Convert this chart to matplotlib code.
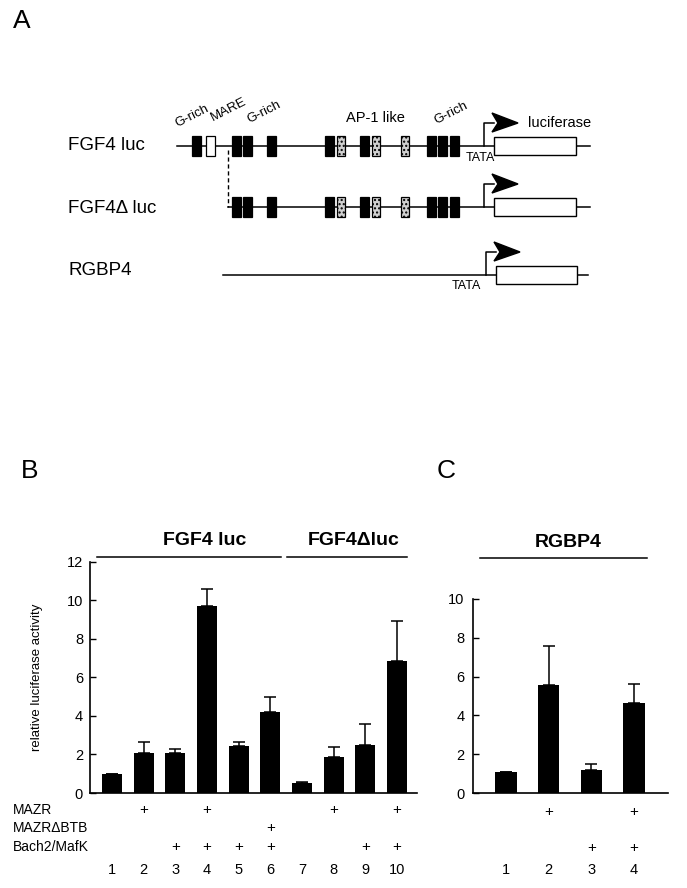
import matplotlib
matplotlib.use("Agg")
import matplotlib.pyplot as plt
from matplotlib import patches, transforms

plt.rcParams["font.family"] = ["Liberation Sans", "DejaVu Sans"]

W, H = 687, 888

# ---- panel A: promoter constructs (positions along the map, pixels) ----
constructs = ["FGF4 luc", "FGF4\u0394 luc", "RGBP4"]
g_rich_sites = [192, 232, 243, 267, 325, 360, 427, 438, 450]
mare_sites = [206]
ap1_sites = [337, 372, 401]

# ---- panel B ----
b_lanes = [1, 2, 3, 4, 5, 6, 7, 8, 9, 10]
b_values = [1.0, 2.07, 2.07, 9.7, 2.42, 4.2, 0.5, 1.87, 2.5, 6.86]
b_errors = [0.0, 0.56, 0.21, 0.87, 0.21, 0.8, 0.05, 0.5, 1.08, 2.04]
b_mazr = [2, 4, 8, 10]
b_mazr_dbtb = [6]
b_bach2 = [3, 4, 5, 6, 9, 10]
b_groups = [("FGF4 luc", 1, 6), ("FGF4\u0394luc", 7, 10)]

# ---- panel C ----
c_lanes = [1, 2, 3, 4]
c_values = [1.1, 5.57, 1.17, 4.63]
c_errors = [0.0, 2.0, 0.34, 1.0]
c_mazr = [2, 4]
c_bach2 = [3, 4]
c_groups = [("RGBP4", 1, 4)]

fig = plt.figure(figsize=(W / 100, H / 100), dpi=100)
ov = fig.add_axes([0, 0, 1, 1])
ov.set_xlim(0, W)
ov.set_ylim(H, 0)
ov.axis("off")
ov.patch.set_alpha(0)

for letter, x, y in [("A", 22, 21), ("B", 30, 471), ("C", 446, 471)]:
    ov.text(x, y, letter, fontsize=19, ha="center", va="center")

# ---------------- panel A ----------------
row_y = [146, 207, 275]
line_x = [(177, 590), (228, 590), (223, 588)]
prom_x = [484, 484, 486]
box_x = [(494, 576), (494, 576), (496, 577)]
label_y = [146, 208, 270]


def block(x, y, w, face, hatch=None):
    ov.add_patch(patches.Rectangle((x, y - 10), w, 20, facecolor=face, edgecolor="k",
                                   lw=0.9, hatch=hatch, zorder=3))


for i, name in enumerate(constructs):
    y = row_y[i]
    ov.text(68, label_y[i], name, fontsize=13.5, ha="left", va="center")
    ov.plot(line_x[i], [y, y], color="k", lw=1.1, zorder=2)
    if i == 0:
        for x in g_rich_sites:
            block(x, y, 9, "k")
        for x in mare_sites:
            block(x, y, 9, "white")
    if i == 1:
        for x in g_rich_sites[1:]:
            block(x, y, 9, "k")
    if i in (0, 1):
        for x in ap1_sites:
            block(x, y, 8, "#d0d0d0", hatch="....")
    # promoter arrow
    px = prom_x[i]
    top = y - 23
    ov.plot([px, px, px + 10], [y, top, top], color="k", lw=1.1, zorder=3)
    ov.add_patch(patches.Polygon([(px + 8, top - 10), (px + 34, top), (px + 8, top + 9),
                                  (px + 14, top)], closed=True, color="k", zorder=3))
    bx0, bx1 = box_x[i]
    ov.add_patch(patches.Rectangle((bx0, y - 9), bx1 - bx0, 18, facecolor="white",
                                   edgecolor="k", lw=1.0, zorder=4))

# deletion marker
ov.plot([228, 228], [150, 207], color="k", lw=1.0, ls=(0, (3, 2)))

# site labels
for txt, x, y, rot in [("G-rich", 192, 116, 27), ("MARE", 229, 110, 27),
                       ("G-rich", 264, 112, 27), ("G-rich", 451, 113, 27)]:
    ov.text(x, y, txt, fontsize=9.5, rotation=rot, ha="center", va="center",
            rotation_mode="anchor")
ov.text(375, 118, "AP-1 like", fontsize=10.5, ha="center", va="center")
ov.text(528, 123, "luciferase", fontsize=10.5, ha="left", va="center")
ov.text(480, 158, "TATA", fontsize=9, ha="center", va="center")
ov.text(466, 286, "TATA", fontsize=9, ha="center", va="center")


# ---------------- bar panels ----------------
def bar_panel(left, right, y_top_px, ymax, lanes, values, errors, xlim, width, pad):
    ax = fig.add_axes([left / W, (H - 793) / H, (right - left) / W, (793 - y_top_px) / H])
    ax.bar(lanes, values, width=width, color="k", zorder=2)
    ax.errorbar(lanes, values, yerr=[[0] * len(lanes), errors], fmt="none", ecolor="k",
                elinewidth=1.1, capsize=4.5, capthick=1.1, zorder=1)
    ax.set_xlim(*xlim)
    ax.set_ylim(0, ymax)
    ax.set_yticks(range(0, ymax + 1, 2))
    ax.set_xticks([])
    for s in ("top", "right"):
        ax.spines[s].set_visible(False)
    for s in ("left", "bottom"):
        ax.spines[s].set_linewidth(1.2)
    ax.tick_params(axis="y", direction="in", length=4, width=1, labelsize=10.5, pad=pad)
    ax.patch.set_alpha(0)
    return ax


axB = bar_panel(90, 417, 561.7, 12, b_lanes, b_values, b_errors, (0.305, 10.63), 0.63, 5)
axB.set_ylabel("relative luciferase activity", fontsize=9.5)
axB.yaxis.set_label_coords(-0.145, 0.5)

axC = bar_panel(473, 668, 599, 10, c_lanes, c_values, c_errors, (0.227, 4.8), 0.5, 6)


def annotate(ax, lanes, rows, groups, pads, shifts, title_y, line_y, num_y):
    tr = transforms.blended_transform_factory(ax.transData, ov.transData)
    for lane_list, y in rows:
        for ln in lane_list:
            ov.text(ln, y, "+", transform=tr, fontsize=11, ha="center", va="center")
    for ln in lanes:
        ov.text(ln, num_y, str(ln), transform=tr, fontsize=10.5, ha="center", va="center")
    for (name, a, b), shift in zip(groups, shifts):
        ov.plot([a - pads[0], b + pads[1]], [line_y, line_y], transform=tr, color="k", lw=1.1)
        ov.text((a + b) / 2 + shift, title_y, name, transform=tr, fontsize=14,
                fontweight="bold", ha="center", va="center")


annotate(axB, b_lanes, [(b_mazr, 810), (b_mazr_dbtb, 828), (b_bach2, 847)], b_groups,
         (0.47, 0.33), [0.44, 0.14], 540, 557, 870)
annotate(axC, c_lanes, [(c_mazr, 812), (c_bach2, 848)], c_groups,
         (0.61, 0.3), [-0.05], 542, 558, 870)

for txt, y in [("MAZR", 810), ("MAZR\u0394BTB", 828), ("Bach2/MafK", 847)]:
    ov.text(13, y, txt, fontsize=10, ha="left", va="center")

fig.savefig("out.png", dpi=100)
